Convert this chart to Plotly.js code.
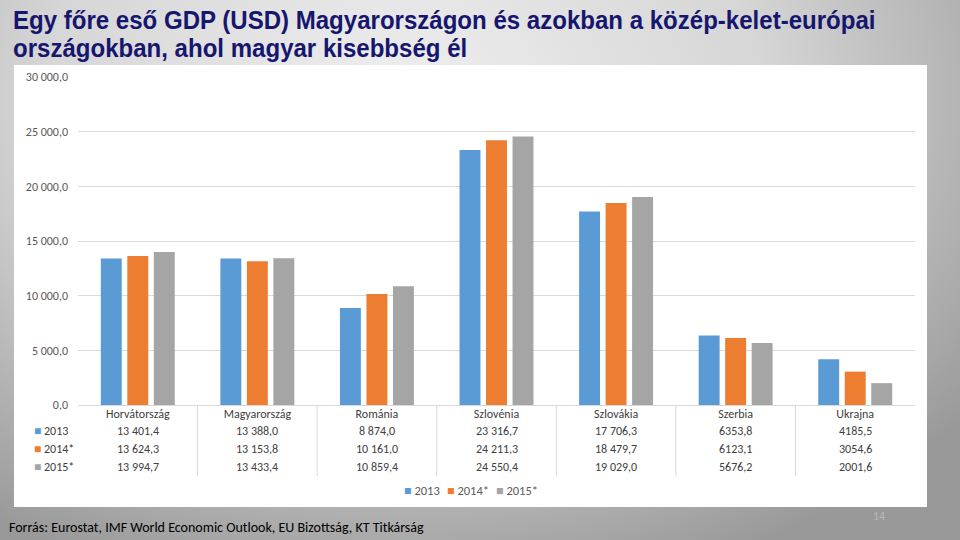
<!DOCTYPE html>
<html>
<head>
<meta charset="utf-8">
<script src="https://cdn.plot.ly/plotly-3.0.1.min.js"></script>
<style>
  html, body { margin:0; padding:0; width:960px; height:540px; overflow:hidden; }
  body { background: radial-gradient(ellipse 75% 95% at 42% 18%, #efefef 0%, #d6d6d6 50%, #999999 100%); position:relative; }
  #box { position:absolute; left:14px; top:65px; width:913px; height:442px; background:#ffffff; }
  #chart { position:absolute; left:0; top:0; width:960px; height:540px; }
</style>
</head>
<body>
<div id="box"></div>
<div id="chart"></div>
<script>
// ---- data ----
const categories = ['Horvátország','Magyarország','Románia','Szlovénia','Szlovákia','Szerbia','Ukrajna'];
const seriesNames = ['2013','2014*','2015*'];
const values2013 = [13401.4, 13388.0, 8874.0, 23316.7, 17706.3, 6353.8, 4185.5];
const values2014 = [13624.3, 13153.8, 10161.0, 24211.3, 18479.7, 6123.1, 3054.6];
const values2015 = [13994.7, 13433.4, 10859.4, 24550.4, 19029.0, 5676.2, 2001.6];
const labels2013 = ['13 401,4','13 388,0','8 874,0','23 316,7','17 706,3','6353,8','4185,5'];
const labels2014 = ['13 624,3','13 153,8','10 161,0','24 211,3','18 479,7','6123,1','3054,6'];
const labels2015 = ['13 994,7','13 433,4','10 859,4','24 550,4','19 029,0','5676,2','2001,6'];
const yTickVals = [0, 5000, 10000, 15000, 20000, 25000, 30000];

const titleLines = ['Egy főre eső GDP (USD) Magyarországon és azokban a közép-kelet-európai',
                    'országokban, ahol magyar kisebbség él'];
const sourceText = 'Forrás: Eurostat, IMF World Economic Outlook, EU Bizottság, KT Titkárság';
const pageNumber = '14';

const colors = ['#5B9BD5', '#ED7D31', '#A5A5A5'];
const allValues = [values2013, values2014, values2015];
const allLabels = [labels2013, labels2014, labels2015];

const bodyFont = "Carlito, 'Liberation Sans', Arial, sans-serif";

const traces = seriesNames.map((name, i) => ({
  type: 'bar',
  name: name,
  x: categories,
  y: allValues[i],
  marker: { color: colors[i] },
  showlegend: false
}));

const annotations = [];
// title (two lines, tight line spacing)
const titleY = [1.175, 1.0895];
titleLines.forEach((t, i) => {
  annotations.push({
    xref: 'paper', yref: 'paper', x: -0.0795, y: titleY[i],
    text: '<b>' + t + '</b>', showarrow: false, xanchor: 'left', yanchor: 'middle', align: 'left',
    font: { family: "'Liberation Sans', Arial, sans-serif", size: 26, color: '#16166e' }
  });
});

// table rows
const rowY = [-0.078, -0.133, -0.189];
allLabels.forEach((labs, r) => {
  labs.forEach((t, c) => {
    annotations.push({
      xref: 'x', yref: 'paper', x: categories[c], y: rowY[r],
      text: t, showarrow: false, xanchor: 'center', yanchor: 'middle',
      font: { family: bodyFont, size: 12, color: '#404040' }
    });
  });
  annotations.push({
    xref: 'paper', yref: 'paper', x: -0.055, y: rowY[r],
    text: '<span style="color:' + colors[r] + '">■</span> ' + seriesNames[r],
    showarrow: false, xanchor: 'left', yanchor: 'middle',
    font: { family: bodyFont, size: 12, color: '#404040' }
  });
});

// legend (bottom)
const legendX = [0.387, 0.4385, 0.497];
seriesNames.forEach((n, i) => {
  annotations.push({
    xref: 'paper', yref: 'paper', x: legendX[i], y: -0.262,
    text: '<span style="color:' + colors[i] + '">■</span> ' + n,
    showarrow: false, xanchor: 'left', yanchor: 'middle',
    font: { family: bodyFont, size: 12.5, color: '#595959' }
  });
});

// footer + page number
annotations.push({
  xref: 'paper', yref: 'paper', x: -0.085, y: -0.372,
  text: sourceText, showarrow: false, xanchor: 'left', yanchor: 'middle',
  font: { family: bodyFont, size: 14, color: '#000000' }
});
annotations.push({
  xref: 'paper', yref: 'paper', x: 0.957, y: -0.338,
  text: pageNumber, showarrow: false, xanchor: 'center', yanchor: 'middle',
  font: { family: bodyFont, size: 12, color: '#b8b8b8' }
});

// separators between table columns
const shapes = [];
for (let i = 0; i < categories.length - 1; i++) {
  shapes.push({
    type: 'line', xref: 'x', yref: 'paper',
    x0: i + 0.5, x1: i + 0.5, y0: 0, y1: -0.217,
    line: { color: '#d9d9d9', width: 1 }
  });
}

const layout = {
  width: 960, height: 540,
  margin: { l: 78, r: 45, t: 77, b: 135 },
  paper_bgcolor: 'rgba(0,0,0,0)',
  plot_bgcolor: 'rgba(0,0,0,0)',
  separators: ', ',
  barmode: 'group',
  bargap: 0.335,
  bargroupgap: 0.21,
  showlegend: false,
  xaxis: {
    type: 'category',
    showgrid: false, showline: false, zeroline: false,
    ticks: '', tickfont: { family: bodyFont, size: 12, color: '#404040' },
    fixedrange: true
  },
  yaxis: {
    range: [0, 30000], tickvals: yTickVals, tickformat: ',.1f',
    showgrid: true, gridcolor: '#d9d9d9', gridwidth: 1,
    zeroline: true, zerolinecolor: '#d9d9d9', zerolinewidth: 1,
    showline: false, ticks: '', ticklabelstandoff: 9,
    tickfont: { family: bodyFont, size: 12, color: '#595959' },
    fixedrange: true
  },
  annotations: annotations,
  shapes: shapes,
  font: { family: bodyFont }
};

Plotly.newPlot('chart', traces, layout, { displayModeBar: false, staticPlot: true }).then(() => {
  // condense the title horizontally (reference uses a narrow typeface)
  const s = 0.925;
  document.querySelectorAll('#chart .annotation-text').forEach(el => {
    const t = el.textContent;
    if (t.indexOf(titleLines[0].slice(0, 10)) === 0 || t.indexOf(titleLines[1].slice(0, 10)) === 0) {
      const x = parseFloat(el.getAttribute('x')) || 0;
      el.setAttribute('transform', 'translate(' + (x * (1 - s)) + ',0) scale(' + s + ',1)');
    }
  });
});
</script>
</body>
</html>
